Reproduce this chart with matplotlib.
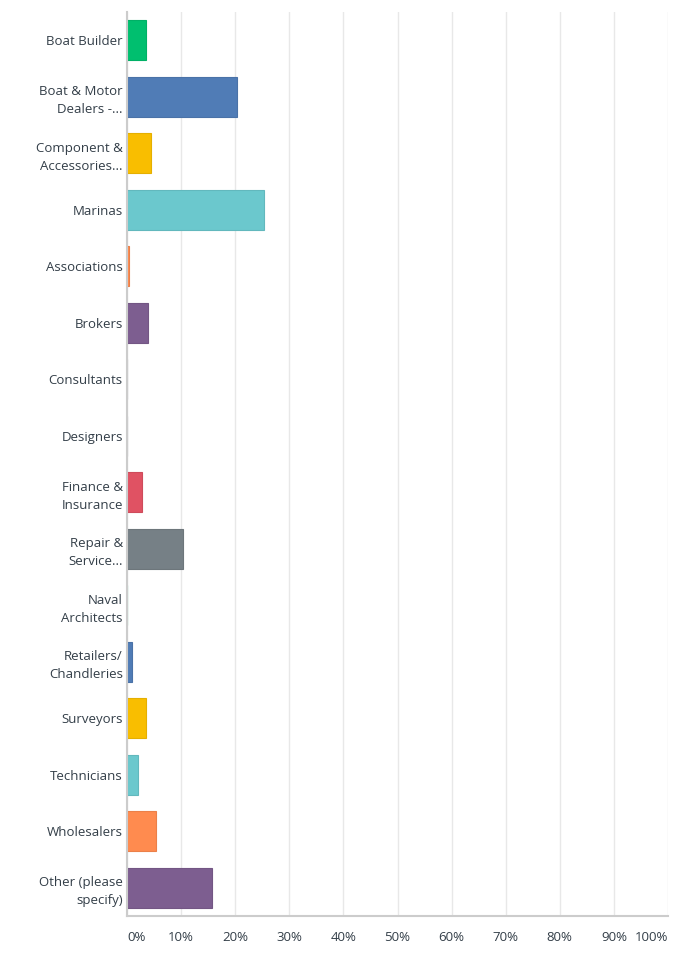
import matplotlib
matplotlib.use('Agg')
import matplotlib.pyplot as plt
import numpy as np

categories = ['Boat Builder', 'Boat & Motor\nDealers -...', 'Component &\nAccessories...',
              'Marinas', 'Associations', 'Brokers', 'Consultants', 'Designers',
              'Finance &\nInsurance', 'Repair &\nService...', 'Naval\nArchitects',
              'Retailers/\nChandleries', 'Surveyors', 'Technicians', 'Wholesalers',
              'Other (please\nspecify)']
values = [3.45, 20.3, 4.5, 25.3, 0.3, 3.9, 0, 0, 2.8, 10.3, 0, 0.9, 3.45, 2.0, 5.3, 15.7]
colors = ['#00BF6F', '#507CB6', '#F9BE00', '#6BC8CD', '#FF8B4F', '#7D5E90', '#768086', '#768086',
          '#E05263', '#768086', '#00BF6F', '#507CB6', '#F9BE00', '#6BC8CD', '#FF8B4F', '#7D5E90']
xticks = [0, 10, 20, 30, 40, 50, 60, 70, 80, 90, 100]
xlabels = ['0%', '10%', '20%', '30%', '40%', '50%', '60%', '70%', '80%', '90%', '100%']

plt.rcParams['font.family'] = ['Open Sans', 'DejaVu Sans']
textc = '#333E48'

fig = plt.figure(figsize=(7, 9.59), dpi=100)
ax = fig.add_axes([127/700, 1-916/959, 541/700, 904/959])

y = np.arange(len(categories))
edge = [matplotlib.colors.to_rgb(c) for c in colors]
edge = [tuple(v*0.92 for v in c) for c in edge]
ax.barh(y, values, height=0.71, color=colors, edgecolor=edge, linewidth=0.8, zorder=3)

ax.set_xlim(0, 100)
ax.set_ylim(len(categories)-0.5, -0.5)
ax.set_xticks(xticks)
ax.set_xticklabels(xlabels, fontsize=9.5, color=textc)
tl = ax.get_xticklabels()
tl[0].set_ha('left')
tl[-1].set_ha('right')
ax.set_yticks(y)
ax.set_yticklabels(categories, fontsize=9.5, color=textc, linespacing=1.5)
ax.tick_params(axis='both', length=0)
ax.tick_params(axis='x', pad=11)
ax.tick_params(axis='y', pad=3)
ax.grid(axis='x', color='#E8E8E8', linewidth=1, zorder=0)
ax.set_axisbelow(True)
for s in ['top', 'right']:
    ax.spines[s].set_visible(False)
for s in ['left', 'bottom']:
    ax.spines[s].set_color('#CCCCCC')
    ax.spines[s].set_linewidth(1.5)
    ax.spines[s].set_zorder(4)

fig.savefig('out.png', dpi=100)
